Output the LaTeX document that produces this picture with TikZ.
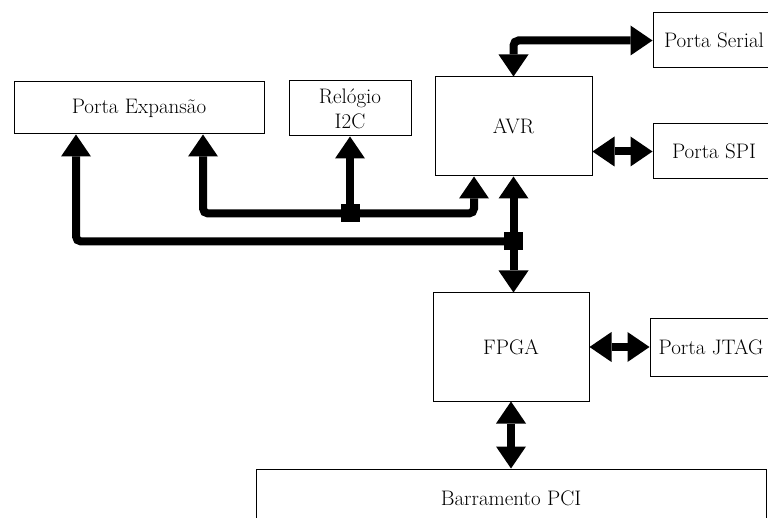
\documentclass[tikz,border=0pt]{standalone}
\usepackage{fontspec}
\usetikzlibrary{arrows.meta}
\begin{document}
\begin{tikzpicture}[x=1pt,y=-1pt,
  box/.style={draw, line width=1pt, rectangle, inner sep=0pt, align=center,
    font=\fontsize{21}{25}\selectfont},
  bus/.style={line width=8pt, rounded corners=5pt,
    >={Triangle[width=30pt,length=22pt,line width=0pt]}},
  junction/.style={fill=black, inner sep=0pt, minimum width=19pt, minimum height=18pt}]
  \path[use as bounding box, clip] (0,0) rectangle (768,518);

  % blocks
  \node[box, minimum width=250pt, minimum height=52pt] (exp) at (139,108) {Porta Expansão};
  \node[box, minimum width=122pt, minimum height=55pt] (rel) at (350,108.5) {Relógio\\I2C};
  \node[box, minimum width=157pt, minimum height=99pt] (avr) at (513.5,126.5) {AVR};
  \node[box, minimum width=122pt, minimum height=55pt] (serial) at (714,40.5) {Porta Serial};
  \node[box, minimum width=122pt, minimum height=55pt] (spi) at (714,151.5) {Porta SPI};
  \node[box, minimum width=156pt, minimum height=108pt] (fpga) at (511,347) {FPGA};
  \node[box, minimum width=122pt, minimum height=57pt] (jtag) at (711,347.5) {Porta JTAG};
  \node[box, minimum width=510pt, minimum height=58pt] (pci) at (511,498) {Barramento PCI};

  % bus junctions
  \coordinate (j1) at (350,213.5);
  \coordinate (j2) at (513.5,241.5);

  % buses
  \draw[bus,<->] (avr.north) |- (serial.west);
  \draw[bus,<->] (avr.east |- spi.west) -- (spi.west);
  \draw[bus,<->] (exp.south -| 203,0) |- (j1) -| (avr.south -| 474,0);
  \draw[bus,->] (j1) -- (rel.south);
  \draw[bus,->] (j2) -| (exp.south -| 76,0);
  \draw[bus,<->] (avr.south) -- (avr.south |- fpga.north);
  \draw[bus,<->] (fpga.east) -- (fpga.east -| jtag.west);
  \draw[bus,<->] (fpga.south) -- (pci.north);

  \node[junction] (n1) at (j1) {};
  \node[junction] (n2) at (j2) {};
\end{tikzpicture}
\end{document}
